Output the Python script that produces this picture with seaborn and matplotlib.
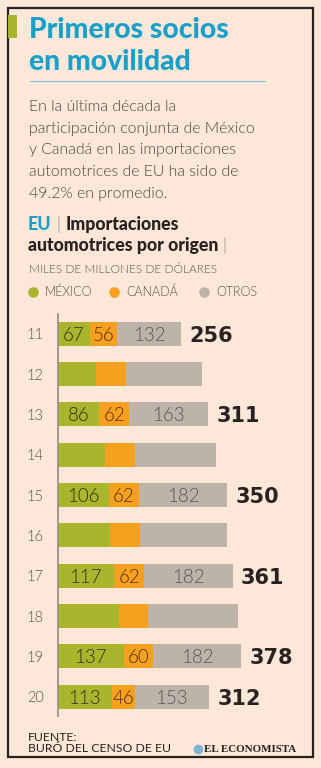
import matplotlib
matplotlib.use("Agg")
import matplotlib.pyplot as plt
import seaborn as sns
import pandas as pd
from matplotlib.lines import Line2D
from matplotlib.patches import Rectangle

# ---------------- data ----------------
years = ["11", "12", "13", "14", "15", "16", "17", "18", "19", "20"]
mexico = [67, 79, 86, 97, 106, 108, 117, 127, 137, 113]
canada = [56, 62, 62, 63, 62, 62, 62, 59, 60, 46]
otros = [132, 157, 163, 167, 182, 180, 182, 187, 182, 153]
total_labels = ["256", "", "311", "", "350", "", "361", "", "378", "312"]
show_values = [True, False, True, False, True, False, True, False, True, True]
legend_labels = ["MÉXICO", "CANADÁ", "OTROS"]

# ---------------- style ----------------
BG = "#fce7d9"
GREEN = "#a9b52c"
ORANGE = "#f6a020"
GRAY = "#bdb3a9"
CYAN = "#18a0c9"
DARK = "#2a2220"
TXT = "#4d4343"
LIGHT = 300

sns.set_theme(style="white")
plt.rcParams["font.family"] = ["Lato", "DejaVu Sans"]

W, H = 321, 768
fig = plt.figure(figsize=(W / 100, H / 100), dpi=100, facecolor=BG)


def fx(px):
    return px / W


def fy(py):
    return 1 - py / H


# frame
fig.add_artist(Rectangle((fx(8), fy(757)), fx(313) - fx(8), fy(8) - fy(757),
                         transform=fig.transFigure, fill=False, ec=DARK, lw=1.6))
# green accent
fig.add_artist(Rectangle((fx(8), fy(38)), fx(17) - fx(8), fy(15) - fy(38),
                         transform=fig.transFigure, fc=GREEN, ec="none"))

# title
fig.text(fx(29), fy(38), "Primeros socios", color=CYAN, fontsize=20.3,
         fontweight="black", va="baseline", ha="left")
fig.text(fx(29), fy(70), "en movilidad", color=CYAN, fontsize=20.3,
         fontweight="black", va="baseline", ha="left")
fig.add_artist(Line2D([fx(30), fx(265)], [fy(81), fy(81)], transform=fig.transFigure,
                      color="#7cc3dc", lw=0.8))

sub = ["En la última década la",
       "participación conjunta de México",
       "y Canadá en las importaciones",
       "automotrices de EU ha sido de",
       "49.2% en promedio."]
for i, line in enumerate(sub):
    fig.text(fx(29), fy(111 + i * 21.7), line, color=TXT, fontsize=11.4,
             fontweight=LIGHT, va="baseline", ha="left")

# chart heading with mixed colors
renderer = fig.canvas.get_renderer()


def seq_text(x_px, y_px, parts):
    x = x_px
    for s, kw in parts:
        t = fig.text(fx(x), fy(y_px), s, va="baseline", ha="left", **kw)
        bb = t.get_window_extent(renderer=renderer)
        x += bb.width
    return x


seq_text(28, 230, [("EU", dict(color=CYAN, fontsize=12.8, fontweight="black")),
                   (" | ", dict(color="#8a8080", fontsize=12.8, fontweight=LIGHT)),
                   ("Importaciones", dict(color=DARK, fontsize=12.8, fontweight="black"))])
seq_text(28, 251, [("automotrices por origen", dict(color=DARK, fontsize=12.8, fontweight="black")),
                   (" |", dict(color="#8a8080", fontsize=12.8, fontweight=LIGHT))])
fig.text(fx(29), fy(273), "MILES DE MILLONES DE DÓLARES", color="#5a5050",
         fontsize=8.6, fontweight=LIGHT, va="baseline")

leg_colors = [GREEN, ORANGE, GRAY]
leg_x = [33, 114, 204]
for lab, c, x in zip(legend_labels, leg_colors, leg_x):
    fig.add_artist(Line2D([fx(x)], [fy(292)], transform=fig.transFigure, marker="o",
                          ms=6.6, color=c, linestyle="none"))
    fig.text(fx(x + 12), fy(296), lab, color="#5a5050", fontsize=9,
             fontweight=LIGHT, va="baseline")

# ---------------- bars ----------------
SCALE = 0.485  # px per unit
ax = fig.add_axes([fx(57.5), fy(716), fx(313) - fx(57.5), fy(314) - fy(716)])
ax.set_facecolor("none")

cum_mc = [m + c for m, c in zip(mexico, canada)]
cum_all = [m + c + o for m, c, o in zip(mexico, canada, otros)]
df = pd.DataFrame({"year": years, "mexico": mexico, "mc": cum_mc, "all": cum_all})

for col, colr in [("all", GRAY), ("mc", ORANGE), ("mexico", GREEN)]:
    sns.barplot(data=df, x=col, y="year", color=colr, orient="h", width=0.6,
                saturation=1, ax=ax, order=years, linewidth=0)

ax.set_xlim(0, (313 - 57.5) / SCALE)
ax.set_ylim(9.48, -0.49)
ax.set_xlabel("")
ax.set_ylabel("")
ax.set_xticks([])
for s in ["top", "right", "bottom"]:
    ax.spines[s].set_visible(False)
ax.spines["left"].set_color("#9c9189")
ax.spines["left"].set_linewidth(1.3)
ax.tick_params(axis="y", length=0, pad=10, labelsize=10.5, labelcolor="#5a5050")
for lab in ax.get_yticklabels():
    lab.set_fontweight(LIGHT)

for i in range(len(years)):
    if show_values[i]:
        m, c, o = mexico[i], canada[i], otros[i]
        ax.text(m / 2, i, str(m), ha="center", va="center_baseline",
                fontsize=13.5, fontweight=LIGHT, color="#33301c")
        ax.text(m + c / 2, i, str(c), ha="center", va="center_baseline",
                fontsize=13.5, fontweight=LIGHT, color="#5a300c")
        ax.text(m + c + o / 2, i, str(o), ha="center", va="center_baseline",
                fontsize=13.5, fontweight=LIGHT, color="#5c5652")
    if total_labels[i]:
        ax.annotate(total_labels[i], (cum_all[i], i), xytext=(6, 0),
                    textcoords="offset points", ha="left", va="center_baseline",
                    fontsize=15, fontweight="black", color=DARK,
                    family=["DejaVu Sans"])

# ---------------- footer ----------------
fig.text(fx(28), fy(741), "FUENTE:", color=DARK, fontsize=8.8, va="baseline")
fig.text(fx(28), fy(752.5), "BURÓ DEL CENSO DE EU", color=DARK, fontsize=8.8, va="baseline")
fig.add_artist(Line2D([fx(197.5)], [fy(748.5)], transform=fig.transFigure, marker="o",
                      ms=6.0, color="#7fb4d2", linestyle="none"))
fig.text(fx(204), fy(752.5), "EL ECONOMISTA", color=DARK, fontsize=7.9,
         fontweight="bold", family=["Liberation Serif"], va="baseline")

fig.savefig("out.png", dpi=100, facecolor=BG)
